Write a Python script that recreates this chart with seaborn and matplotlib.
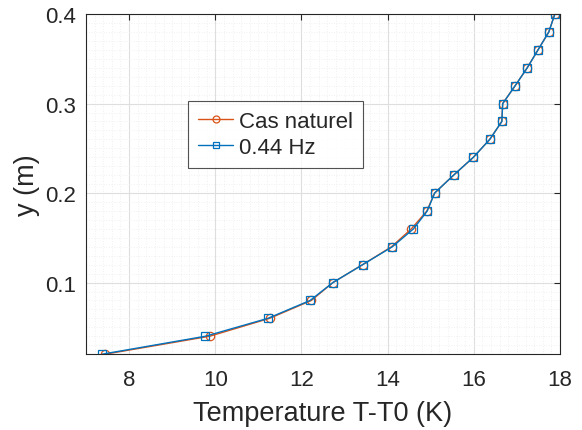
import matplotlib
matplotlib.use('Agg')
import matplotlib.pyplot as plt
from matplotlib.lines import Line2D
from matplotlib.ticker import MultipleLocator
import pandas as pd
import seaborn as sns

# profil vertical de température, deux cas
y_pos = [0.02, 0.04, 0.06, 0.08, 0.10, 0.12, 0.14, 0.16, 0.18, 0.20,
         0.22, 0.24, 0.26, 0.28, 0.30, 0.32, 0.34, 0.36, 0.38, 0.40]
t_naturel = [7.45, 9.87, 11.26, 12.23, 12.73, 13.42, 14.09, 14.55, 14.91, 15.09,
             15.53, 15.99, 16.37, 16.65, 16.67, 16.96, 17.24, 17.49, 17.74, 17.88]
t_044hz = [7.38, 9.77, 11.22, 12.20, 12.73, 13.42, 14.11, 14.60, 14.92, 15.09,
           15.53, 15.99, 16.37, 16.65, 16.67, 16.96, 17.24, 17.49, 17.74, 17.88]

df = pd.concat([
    pd.DataFrame({'T': t_naturel, 'y': y_pos, 'cas': 'Cas naturel'}),
    pd.DataFrame({'T': t_044hz, 'y': y_pos, 'cas': '0.44 Hz'}),
])

sns.set_theme(style='white')
plt.rcParams['font.family'] = ['Liberation Sans', 'DejaVu Sans']

fig = plt.figure(figsize=(5.82, 4.31), dpi=100)
ax = fig.add_axes([0.1478, 0.176, 0.8144, 0.789])

pal = {'Cas naturel': '#D95319', '0.44 Hz': '#0072BD'}
mk = {'Cas naturel': 'o', '0.44 Hz': 's'}
msz = {'Cas naturel': 6, '0.44 Hz': 5.5}
sns.lineplot(data=df, x='T', y='y', hue='cas', style='cas', sort=False,
             palette=pal, markers=mk, dashes=False, markersize=6,
             markeredgewidth=0.9, linewidth=1.0, legend=False, ax=ax)
for ln, name in zip(ax.get_lines(), ['Cas naturel', '0.44 Hz']):
    ln.set_markeredgecolor(pal[name])
    ln.set_markerfacecolor('none')
    ln.set_markersize(msz[name])

ax.set_xlim(7, 18)
ax.set_ylim(0.02, 0.4)
ax.set_xticks([8, 10, 12, 14, 16, 18])
ax.set_yticks([0.1, 0.2, 0.3, 0.4])
ax.set_yticklabels(['0.1', '0.2', '0.3', '0.4'])
ax.xaxis.set_minor_locator(MultipleLocator(0.2))
ax.yaxis.set_minor_locator(MultipleLocator(0.01))
ax.grid(which='major', color='#dedede', linewidth=0.8)
ax.grid(which='minor', color='#ececec', linestyle=(0, (1, 2)), linewidth=0.6)
ax.set_axisbelow(True)
ax.tick_params(which='major', direction='in', length=4, width=0.8, colors='#262626',
               labelsize=16, top=True, right=True)
ax.tick_params(axis='x', pad=11)
ax.tick_params(axis='y', pad=7)
ax.tick_params(which='minor', length=0)
for s in ax.spines.values():
    s.set_color('#262626')
    s.set_linewidth(0.8)

ax.set_xlabel('Temperature T-T0 (K)', fontsize=19.5, color='#262626')
ax.set_ylabel('y (m)', fontsize=19.5, color='#262626')
ax.xaxis.label.set_va('center')
ax.yaxis.label.set_va('center')
ax.xaxis.set_label_coords(0.5, -0.172)
ax.yaxis.set_label_coords(-0.1245, 0.5)

handles = [Line2D([], [], color=pal[n], marker=mk[n], markersize=5,
                  markerfacecolor='none', markeredgecolor=pal[n],
                  markeredgewidth=0.9, linewidth=1.0) for n in pal]
leg = ax.legend(handles, list(pal), loc='upper left', bbox_to_anchor=(0.215, 0.744),
                borderaxespad=0, fontsize=16, frameon=True, fancybox=False,
                edgecolor='#262626', handlelength=1.6, borderpad=0.45,
                labelspacing=0.2, handletextpad=0.25)
leg.get_frame().set_linewidth(0.8)

fig.savefig('out.png', dpi=100)
